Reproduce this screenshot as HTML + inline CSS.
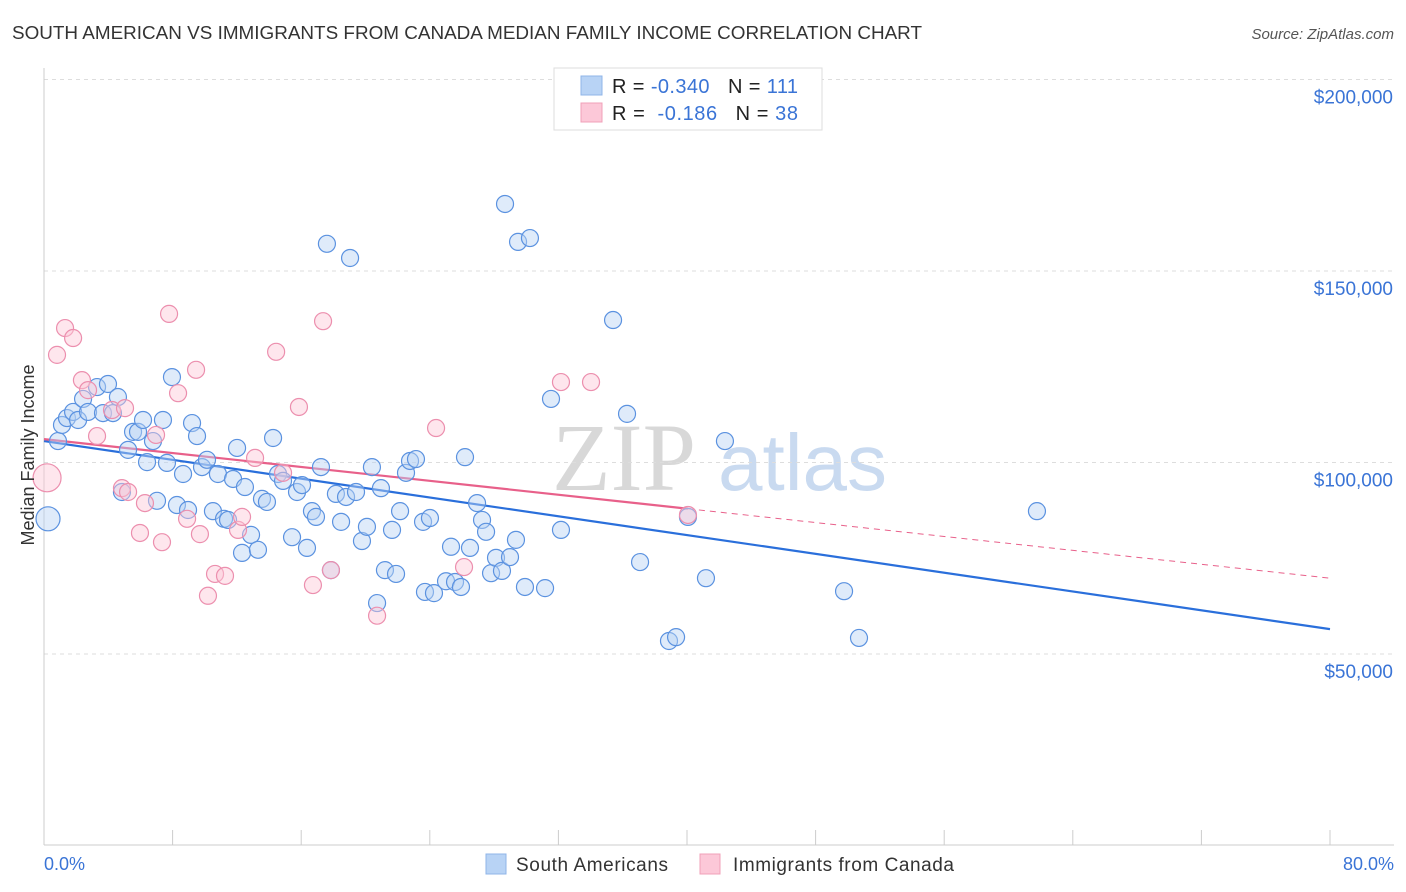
<!DOCTYPE html>
<html><head><meta charset="utf-8"><style>
body{margin:0;background:#fff;font-family:"Liberation Sans",sans-serif;}
svg{display:block}
</style></head><body>
<svg id="chart" width="1406" height="892">
<text x="12" y="39" font-size="18" fill="#333" textLength="910" lengthAdjust="spacingAndGlyphs">SOUTH AMERICAN VS IMMIGRANTS FROM CANADA MEDIAN FAMILY INCOME CORRELATION CHART</text>
<text x="1394" y="39" font-size="15" fill="#555" font-style="italic" text-anchor="end">Source: ZipAtlas.com</text>
<g><text x="552" y="490" font-size="96" fill="#d8d8d8" font-family="Liberation Serif,serif">ZIP</text><text x="718" y="490" font-size="80" fill="#c9daf0">atlas</text></g>
<g id="grid"></g><g id="axes"></g><g id="lines"></g><g id="pts"></g>
<text transform="translate(34,455) rotate(-90)" font-size="18" fill="#333" text-anchor="middle">Median Family Income</text>
<text x="44" y="870" font-size="18" fill="#3a74d6">0.0%</text>
<text x="1394" y="870" font-size="18" fill="#3a74d6" text-anchor="end">80.0%</text>
<g>
<rect x="554" y="68" width="268" height="62" fill="#fff" stroke="#ddd"/>
<rect x="581" y="76" width="21" height="19" fill="#b8d3f5" stroke="#8fb4e8"/>
<rect x="581" y="103" width="21" height="19" fill="#fcc8d8" stroke="#f0a0b8"/>
<text x="612" y="93" font-size="20" fill="#222" textLength="186">R = <tspan fill="#3a74d6">-0.340</tspan><tspan dx="18">N = </tspan><tspan fill="#3a74d6">111</tspan></text>
<text x="612" y="120" font-size="20" fill="#222" textLength="186">R = <tspan dx="6" fill="#3a74d6">-0.186</tspan><tspan dx="18">N = </tspan><tspan fill="#3a74d6">38</tspan></text>
</g>
<g>
<rect x="486" y="854" width="20" height="20" fill="#b8d3f5" stroke="#8fb4e8"/>
<text x="516" y="871" font-size="19" fill="#333" textLength="152">South Americans</text>
<rect x="700" y="854" width="20" height="20" fill="#fcc8d8" stroke="#f0a0b8"/>
<text x="733" y="871" font-size="19" fill="#333" textLength="221">Immigrants from Canada</text>
</g>
</svg>
<script>
const yTicks=[50,100,150,200];
const yTickLabels=["$50,000","$100,000","$150,000","$200,000"];
const xTicks=[0,8,16,24,32,40,48,56,64,72,80];
const blueX=[0.25,0.87,1.12,1.43,1.81,2.12,2.43,2.74,3.3,3.67,3.98,4.29,4.6,4.85,5.23,5.54,5.85,6.16,6.41,6.78,7.03,7.4,7.65,7.96,8.27,8.65,8.96,9.21,9.52,9.83,10.14,10.51,10.82,11.2,11.45,11.76,12.01,12.32,12.5,12.88,13.31,13.56,13.87,14.25,14.56,14.87,15.43,15.74,16.05,16.36,16.67,16.92,17.23,17.6,17.85,18.16,18.48,18.79,19.04,19.41,19.78,20.09,20.4,20.72,20.96,21.21,21.65,21.9,22.15,22.52,22.77,23.14,23.58,23.7,24.01,24.26,25.01,25.32,25.57,25.94,26.19,26.5,26.94,27.25,27.5,27.81,28.12,28.49,28.68,28.99,29.36,29.49,29.92,30.23,31.17,31.54,32.16,35.4,36.27,37.08,38.88,39.32,40.06,41.18,42.36,49.77,50.7,61.77];
const blueY=[85.3,105.6,109.8,111.6,113.2,111.1,116.6,113.2,119.7,112.9,120.5,112.9,117.1,92.3,103.3,108,108,111.1,100.1,105.6,90,111.1,99.9,122.3,88.9,97,87.6,110.3,106.9,98.8,100.7,87.3,97,85.3,85,95.7,103.8,76.4,93.6,81.1,77.2,90.5,89.7,106.4,97,95.2,80.5,92.3,94.1,77.7,87.3,85.8,98.8,157.1,71.9,91.8,84.5,91,153.4,92.3,79.5,83.2,98.8,63.3,93.3,71.9,82.4,70.9,87.3,97.3,100.4,100.9,84.5,66.2,85.5,65.9,69,78,68.8,67.5,101.4,77.7,89.4,85,81.9,71.1,75.1,71.7,167.5,75.3,79.8,157.6,67.5,158.6,67.2,116.6,82.4,137.2,112.7,74,53.4,54.4,85.8,69.8,105.6,66.4,54.2,87.3];
const pinkX=[0.19,0.81,1.31,1.81,2.36,2.74,3.3,4.23,5.04,4.85,5.23,5.97,6.28,6.97,7.34,7.78,8.34,8.9,9.46,9.7,10.2,10.64,11.26,12.07,12.32,13.13,14.44,14.87,15.86,16.73,17.36,17.85,20.72,24.39,26.13,32.16,34.03,40.06];
const pinkY=[96,128.1,135.1,132.5,121.5,118.9,106.9,113.7,114.2,93.3,92.3,81.6,89.4,107.2,79.2,138.8,118.1,85.3,124.2,81.3,65.2,70.9,70.4,82.4,85.8,101.2,128.9,97.3,114.5,68,136.9,71.9,60,109,72.7,121,121,86.3];
const blueTrend=[105.6,56.5];
const pinkTrend=[106.1,69.8];
const pinkSolidEnd=40.06;

const NS="http://www.w3.org/2000/svg";
const sx=v=>44+v*(1286/80);
const sy=v=>845.5-v*3.83;
function mk(tag,attrs,parent){const e=document.createElementNS(NS,tag);for(const k in attrs)e.setAttribute(k,attrs[k]);document.getElementById(parent).appendChild(e);return e;}
yTicks.forEach((t,i)=>{
  const l=mk('line',{x1:44,x2:1394,y1:sy(t),y2:sy(t),stroke:'#ddd','stroke-dasharray':'4,4'},'grid');
  
  
  const tx=mk('text',{x:1393,y:sy(t)+24,'font-size':19,fill:'#3a74d6','text-anchor':'end'},'axes');
  tx.textContent=yTickLabels[i];
  
  
});
const ax=mk('line',{x1:44,x2:44,y1:68,y2:845,stroke:'#ccc'},'axes');


const bx=mk('line',{x1:44,x2:1394,y1:845,y2:845,stroke:'#ccc'},'axes');


xTicks.forEach(t=>{
  const l=mk('line',{x1:sx(t),x2:sx(t),y1:830,y2:845,stroke:'#ccc'},'axes');
  
  
});
const tv=(tr,x)=>tr[0]+(tr[1]-tr[0])*x/80;
function pts(X,Y,fill,stroke,name){
  X.forEach((x,i)=>{
    const r=(i===0)?(name==='pink-point'?14:12):8.5;
    const c=mk('circle',{cx:sx(x),cy:sy(Y[i]),r:r,fill:fill,'fill-opacity':0.45,stroke:stroke,'stroke-width':1.2},'pts');
    
    
  });
}
pts(blueX,blueY,'#b8d3f5','#5b92e0','blue-point');
pts(pinkX,pinkY,'#fcc8d8','#ec8fae','pink-point');
const bl=mk('line',{x1:sx(0),y1:sy(tv(blueTrend,0)),x2:sx(80),y2:sy(tv(blueTrend,80)),stroke:'#2a6fdb','stroke-width':2.2},'lines');


const pl=mk('line',{x1:sx(0),y1:sy(tv(pinkTrend,0)),x2:sx(pinkSolidEnd),y2:sy(tv(pinkTrend,pinkSolidEnd)),stroke:'#e8608a','stroke-width':2.2},'lines');


const pd=mk('line',{x1:sx(pinkSolidEnd),y1:sy(tv(pinkTrend,pinkSolidEnd)),x2:sx(80),y2:sy(tv(pinkTrend,80)),stroke:'#e8608a','stroke-width':1,'stroke-dasharray':'6,5'},'lines');


</script>
</body></html>
